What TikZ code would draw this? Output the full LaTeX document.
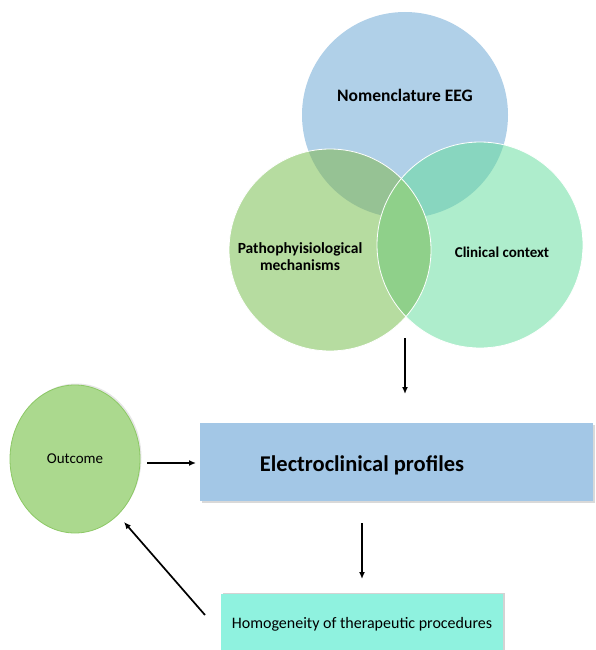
\documentclass[tikz,border=0pt]{standalone}
\usepackage{fontspec}
\setmainfont{Carlito}
\usepackage{tikz}
\usetikzlibrary{positioning}
\usetikzlibrary{shapes.geometric}
\usetikzlibrary{shadows}
\usetikzlibrary{arrows.meta}

\definecolor{eegblue}{HTML}{B0D0E8}
\definecolor{pathgreen}{HTML}{B6DCA0}
\definecolor{clinmint}{HTML}{AEEDCC}
\definecolor{bluegreen}{HTML}{96C294}
\definecolor{bluemint}{HTML}{88D6BF}
\definecolor{midgreen}{HTML}{8FD08A}
\definecolor{outgreen}{HTML}{ABD98E}
\definecolor{outedge}{HTML}{8CC865}
\definecolor{elecblue}{HTML}{A3C7E6}
\definecolor{homogmint}{HTML}{8FF2DF}

\begin{document}
\begin{tikzpicture}[x=1pt,y=-1pt,>={Latex[length=7pt,width=6pt]}]
	\useasboundingbox (0,0) rectangle (595,650);
	% Venn Circles %
	\fill [eegblue] (405,115) circle (103);
	\fill [pathgreen] (330,250) circle (101);
	\fill [clinmint] (480,245) circle (103);
	% Overlaps %
	\begin{scope}
		\clip (405,115) circle (103);
		\fill [bluegreen] (330,250) circle (101);
		\fill [bluemint] (480,245) circle (103);
	\end{scope}
	\begin{scope}
		\clip (330,250) circle (101);
		\fill [midgreen] (480,245) circle (103);
	\end{scope}
	\draw [white, line width=0.8] (330,250) circle (101);
	\draw [white, line width=0.8] (480,245) circle (103);
	% Venn Labels %
	\node (nomenclature) [font=\fontsize{17.5}{20}\selectfont\bfseries] at (405,95) {Nomenclature EEG};
	\node (pathophys) [align=center, font=\fontsize{15.5}{17}\selectfont\bfseries] at (300,257) {Pathophyisiological\\mechanisms};
	\node (clinical) [font=\fontsize{15}{18}\selectfont\bfseries] at (502,252) {Clinical context};
	% Outcome %
	\node (outcome) [ellipse, fill=outgreen, draw=outedge, line width=0.8, minimum width=130pt, minimum height=148pt, font=\fontsize{15}{18}\selectfont, drop shadow={shadow xshift=1.5pt, shadow yshift=1.5pt, opacity=0.2}] at (75,459) {Outcome};
	% Electroclinical Profiles %
	\node (elec) [rectangle, fill=elecblue, minimum width=393pt, minimum height=78pt, inner sep=0pt, drop shadow={shadow xshift=1.5pt, shadow yshift=-1.5pt, opacity=0.3}] at (396.5,462) {};
	\node (electext) [font=\fontsize{22.5}{26}\selectfont\bfseries] at (362,465) {Electroclinical profiles};
	% Homogeneity %
	\node (homog) [rectangle, fill=homogmint, minimum width=282pt, minimum height=60pt, inner sep=0pt, font=\fontsize{16}{19}\selectfont, drop shadow={shadow xshift=2pt, shadow yshift=1pt, opacity=0.35}] at (362,624) {Homogeneity of therapeutic procedures};
	% Arrows %
	\coordinate (venntip) at (405,338);
	\coordinate (elecin) at (405,394);
	\coordinate (outright) at (147,463);
	\coordinate (elecleft) at (196,463);
	\coordinate (elecout) at (362,523);
	\coordinate (homogin) at (362,579);
	\coordinate (homogleft) at (205,615);
	\coordinate (outin) at (124,522);
	\draw [->, line width=1.7] (venntip) -- (elecin);
	\draw [->, line width=1.7] (outright) -- (elecleft);
	\draw [->, line width=1.7] (elecout) -- (homogin);
	\draw [->, line width=1.7] (homogleft) -- (outin);
\end{tikzpicture}
\end{document}
